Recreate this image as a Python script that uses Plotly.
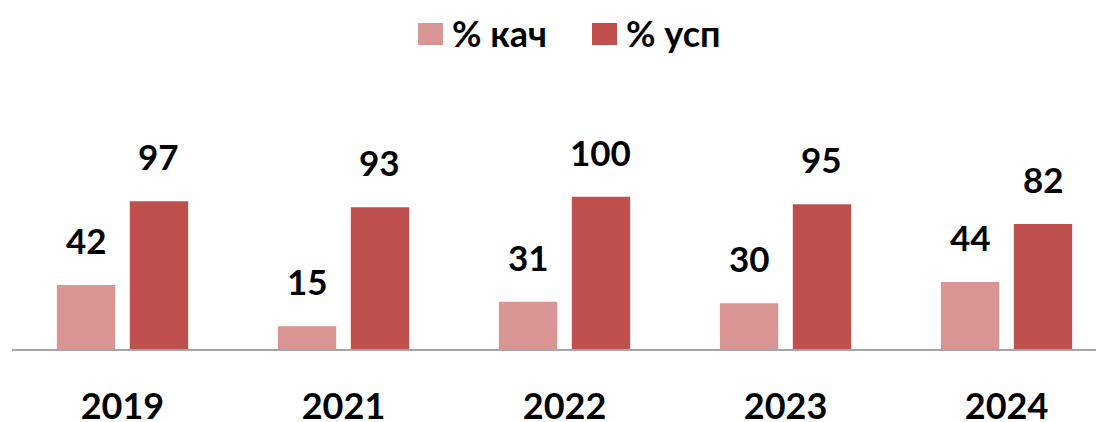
import plotly.graph_objects as go

years = ["2019", "2021", "2022", "2023", "2024"]
kach = [42, 15, 31, 30, 44]
usp = [97, 93, 100, 95, 82]
series_names = ["% кач", "% усп"]
colors = ["#d99594", "#c0504d"]

# page body has an 8px default margin; the figure is sized to fill the rest
OFF = 8
W, H = 1104 - OFF, 422 - OFF
L, R, T, B = 12 - OFF, 0, 151 - OFF, 73
YMAX = 130
BARGAP = 0.34
GROUPGAP = 0.2
FONT = dict(family="Lato", size=35, color="#000000", weight="bold")

plot_w = W - L - R
plot_h = H - T - B
x_range = [-0.5, 4.441]
px_per_cat = plot_w / (x_range[1] - x_range[0])
slot_shift = (1 - BARGAP) * px_per_cat / 4

fig = go.Figure()
for name, vals, col in zip(series_names, [kach, usp], colors):
    fig.add_trace(go.Bar(x=years, y=vals, name=name, marker_color=col,
                         marker_line_width=0, showlegend=False))

annotations = []
for vals, sign in [(kach, -1), (usp, 1)]:
    for i, v in enumerate(vals):
        annotations.append(dict(x=i, y=v, xref="x", yref="y", text=str(v),
                                showarrow=False, yanchor="bottom", xanchor="center",
                                xshift=sign * slot_shift, yshift=22,
                                font=dict(FONT)))

# pixel positions in the page (window coordinates)
def px_x(p):
    return (p - OFF - L) / plot_w

def px_y(p):
    return (H - B - (p - OFF)) / plot_h

shapes = []
legend_items = [(418, 443), (592, 617)]
for (x0, x1), name, col in zip(legend_items, series_names, colors):
    shapes.append(dict(type="rect", xref="paper", yref="paper",
                       x0=px_x(x0), x1=px_x(x1), y0=px_y(45), y1=px_y(23),
                       fillcolor=col, line=dict(width=0)))
    annotations.append(dict(x=px_x(x1 + 7), y=px_y(33), xref="paper", yref="paper",
                            text=name, showarrow=False, xanchor="left", yanchor="middle",
                            font=dict(FONT, size=36)))

fig.update_layout(
    width=W, height=H,
    margin=dict(l=L, r=R, t=T, b=B, pad=0, autoexpand=False),
    paper_bgcolor="white", plot_bgcolor="white",
    barmode="group", bargap=BARGAP, bargroupgap=GROUPGAP,
    annotations=annotations, shapes=shapes,
    xaxis=dict(type="category", range=x_range, showline=True, linecolor="#a6a6a6",
               linewidth=2, showgrid=False, ticks="", tickfont=dict(FONT, size=36),
               ticklabelstandoff=25, zeroline=False, automargin=False),
    yaxis=dict(range=[0, YMAX], showticklabels=False, showline=False, ticks="",
               showgrid=False, zeroline=False, automargin=False),
)

fig.write_html("out.html")
